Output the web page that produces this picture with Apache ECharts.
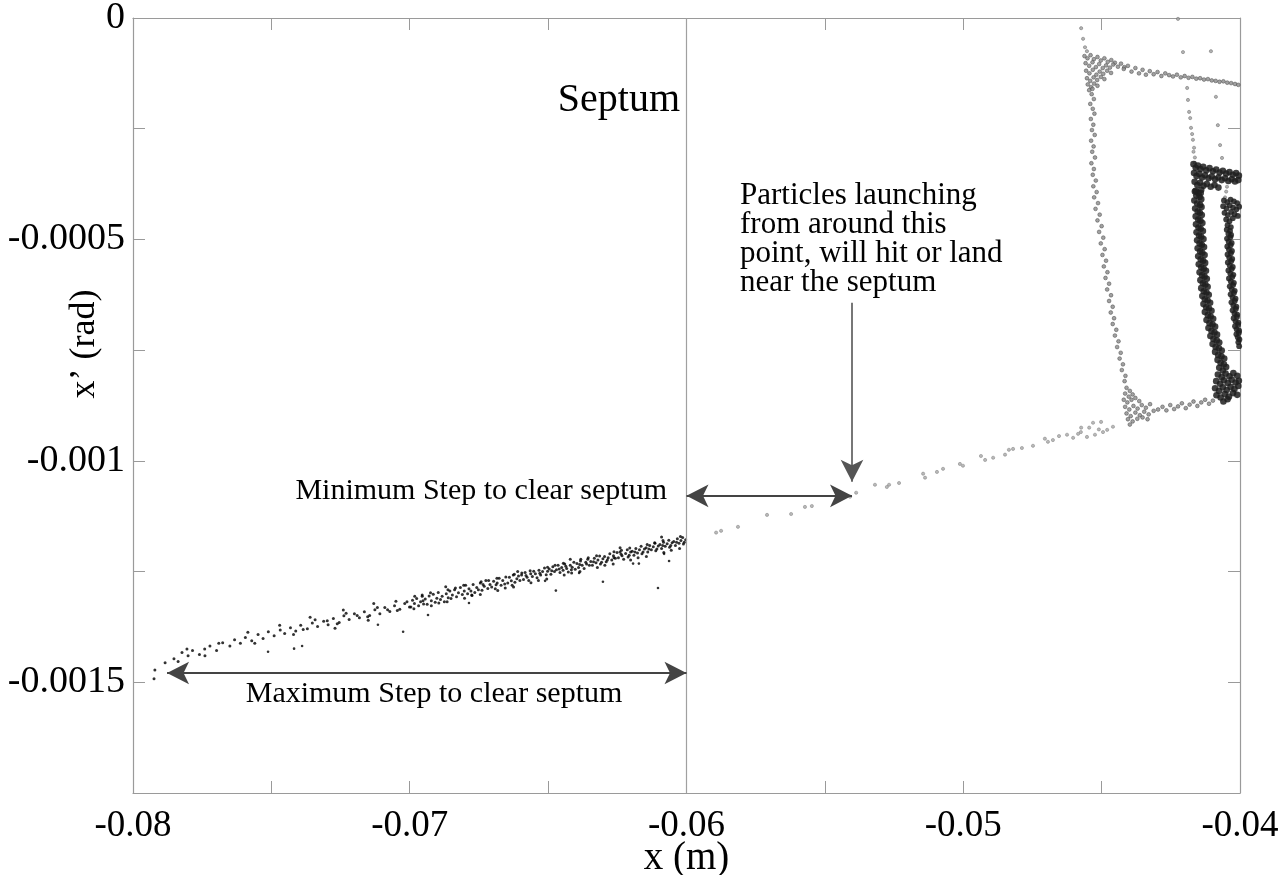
<!DOCTYPE html>
<html>
<head>
<meta charset="utf-8">
<title>Phase space near the septum</title>
<script src="https://cdn.jsdelivr.net/npm/echarts@6/dist/echarts.min.js"></script>
<style>
  html, body { margin: 0; padding: 0; background: #fff; overflow: hidden; }
  #chart { width: 1283px; height: 875px; }
</style>
</head>
<body>
<div id="chart"></div>
<script>
// Tick labels
const xTickLabels = ['-0.08', '-0.07', '-0.06', '-0.05', '-0.04'];
const yTickLabels = ['0', '-0.0005', '-0.001', '-0.0015'];

// Septum position (m)
const septumX = -0.06;

// Extracted beam band, left of the septum: [x (m), x' (rad)]
const bandPoints = [
  [-0.07924,-0.001492],[-0.07921,-0.001472],[-0.07884,-0.001456],[-0.07852,-0.001447],[-0.07837,-0.001453],[-0.07823,-0.001433],
  [-0.07801,-0.001440],[-0.07785,-0.001428],[-0.07760,-0.001437],[-0.07741,-0.001425],[-0.07722,-0.001418],[-0.07698,-0.001428],
  [-0.07676,-0.001411],[-0.07650,-0.001418],[-0.07633,-0.001404],[-0.07612,-0.001412],[-0.07594,-0.001399],[-0.07571,-0.001406],
  [-0.07548,-0.001392],[-0.07530,-0.001401],[-0.07511,-0.001386],[-0.07490,-0.001395],[-0.07468,-0.001382],[-0.07452,-0.001390],
  [-0.07431,-0.001377],[-0.07412,-0.001384],[-0.07394,-0.001371],[-0.07370,-0.001379],[-0.07352,-0.001366],[-0.07333,-0.001374],
  [-0.07311,-0.001362],[-0.07295,-0.001370],[-0.07276,-0.001356],[-0.07255,-0.001365],[-0.07238,-0.001350],[-0.07219,-0.001358],
  [-0.07200,-0.001345],[-0.07182,-0.001354],[-0.07164,-0.001341],[-0.07145,-0.001349],[-0.07126,-0.001336],[-0.07108,-0.001345],
  [-0.07090,-0.001331],[-0.07072,-0.001340],[-0.07055,-0.001327],[-0.07036,-0.001335],[-0.07018,-0.001322],[-0.07001,-0.001330],
  [-0.07385,-0.001381],[-0.07342,-0.001359],[-0.07298,-0.001361],[-0.07262,-0.001368],[-0.07230,-0.001344],[-0.07190,-0.001349],
  [-0.07152,-0.001352],[-0.07117,-0.001331],[-0.07080,-0.001336],[-0.07045,-0.001338],[-0.07010,-0.001318],
  [-0.07805,-0.001425],[-0.07690,-0.001412],[-0.07585,-0.001387],[-0.07470,-0.001371],[-0.07360,-0.001353],[-0.07240,-0.001337],
  [-0.07130,-0.001322],[-0.07050,-0.001317],[-0.07740,-0.001440],[-0.07560,-0.001412],[-0.07420,-0.001392],[-0.07270,-0.001378],
  [-0.07150,-0.001360],
  [-0.06996,-0.001330],[-0.06990,-0.001315],[-0.06983,-0.001322],[-0.06975,-0.001311],[-0.06968,-0.001327],[-0.06961,-0.001318],
  [-0.06955,-0.001306],[-0.06950,-0.001323],[-0.06952,-0.001316],
  [-0.06944,-0.001312],[-0.06937,-0.001324],[-0.06930,-0.001305],[-0.06922,-0.001316],[-0.06915,-0.001301],[-0.06908,-0.001319],[-0.06902,-0.001310],
  [-0.06897,-0.001297],[-0.06889,-0.001313],[-0.06883,-0.001306],[-0.06875,-0.001318],[-0.06868,-0.001300],[-0.06861,-0.001309],[-0.06855,-0.001294],[-0.06851,-0.001311],
  [-0.06846,-0.001303],[-0.06838,-0.001291],[-0.06831,-0.001307],[-0.06824,-0.001298],[-0.06817,-0.001286],[-0.06810,-0.001302],[-0.06803,-0.001294],
  [-0.06798,-0.001281],[-0.06791,-0.001300],[-0.06786,-0.001289],[-0.06779,-0.001294],[-0.06771,-0.001279],[-0.06765,-0.001297],[-0.06758,-0.001286],[-0.06752,-0.001291],[-0.06776,-0.001303],
  [-0.06745,-0.001276],[-0.06739,-0.001292],[-0.06731,-0.001283],[-0.06725,-0.001270],[-0.06718,-0.001288],[-0.06710,-0.001279],[-0.06704,-0.001285],[-0.06735,-0.001279],
  [-0.06697,-0.001272],[-0.06691,-0.001289],[-0.06684,-0.001276],[-0.06677,-0.001265],[-0.06670,-0.001281],[-0.06664,-0.001270],[-0.06657,-0.001278],[-0.06653,-0.001262],[-0.06688,-0.001280],
  [-0.06646,-0.001276],[-0.06640,-0.001263],[-0.06633,-0.001271],[-0.06626,-0.001258],[-0.06620,-0.001274],[-0.06613,-0.001266],[-0.06607,-0.001260],[-0.06602,-0.001270],[-0.06630,-0.001281],
  [-0.06596,-0.001258],[-0.06589,-0.001268],[-0.06583,-0.001252],[-0.06576,-0.001263],[-0.06570,-0.001270],[-0.06563,-0.001255],[-0.06557,-0.001261],[-0.06552,-0.001249],[-0.06580,-0.001259],
  [-0.06546,-0.001255],[-0.06540,-0.001264],[-0.06533,-0.001247],[-0.06527,-0.001258],[-0.06520,-0.001250],[-0.06513,-0.001242],[-0.06507,-0.001257],[-0.06502,-0.001249],[-0.06530,-0.001254],
  [-0.06496,-0.001244],[-0.06490,-0.001256],[-0.06483,-0.001239],[-0.06477,-0.001250],[-0.06470,-0.001246],[-0.06464,-0.001236],[-0.06457,-0.001252],[-0.06451,-0.001241],[-0.06487,-0.001248],[-0.06460,-0.001244],
  [-0.06446,-0.001247],[-0.06440,-0.001233],[-0.06433,-0.001243],[-0.06427,-0.001251],[-0.06420,-0.001236],[-0.06413,-0.001240],[-0.06407,-0.001229],[-0.06402,-0.001245],[-0.06436,-0.001238],[-0.06416,-0.001246],
  [-0.06396,-0.001232],[-0.06390,-0.001241],[-0.06383,-0.001226],[-0.06377,-0.001236],[-0.06370,-0.001243],[-0.06364,-0.001229],[-0.06357,-0.001222],[-0.06351,-0.001236],[-0.06386,-0.001234],[-0.06361,-0.001233],
  [-0.06346,-0.001227],[-0.06340,-0.001236],[-0.06333,-0.001220],[-0.06327,-0.001230],[-0.06320,-0.001224],[-0.06314,-0.001215],[-0.06307,-0.001229],[-0.06302,-0.001221],[-0.06336,-0.001228],[-0.06311,-0.001233],
  [-0.06296,-0.001216],[-0.06290,-0.001228],[-0.06283,-0.001219],[-0.06277,-0.001210],[-0.06270,-0.001224],[-0.06264,-0.001214],[-0.06257,-0.001220],[-0.06251,-0.001207],[-0.06286,-0.001224],[-0.06262,-0.001219],
  [-0.06246,-0.001219],[-0.06240,-0.001206],[-0.06233,-0.001214],[-0.06227,-0.001222],[-0.06220,-0.001209],[-0.06214,-0.001201],[-0.06207,-0.001213],[-0.06202,-0.001206],[-0.06236,-0.001211],[-0.06211,-0.001217],
  [-0.06196,-0.001204],[-0.06190,-0.001213],[-0.06183,-0.001198],[-0.06177,-0.001208],[-0.06170,-0.001201],[-0.06164,-0.001193],[-0.06157,-0.001206],[-0.06152,-0.001199],[-0.06186,-0.001206],[-0.06161,-0.001210],
  [-0.06146,-0.001196],[-0.06140,-0.001206],[-0.06133,-0.001191],[-0.06127,-0.001201],[-0.06120,-0.001194],[-0.06114,-0.001186],[-0.06107,-0.001199],[-0.06102,-0.001192],[-0.06136,-0.001199],[-0.06111,-0.001203],
  [-0.06096,-0.001189],[-0.06090,-0.001198],[-0.06083,-0.001184],[-0.06077,-0.001193],[-0.06070,-0.001187],[-0.06064,-0.001179],[-0.06057,-0.001191],[-0.06052,-0.001185],[-0.06086,-0.001191],[-0.06061,-0.001195],
  [-0.06046,-0.001182],[-0.06040,-0.001191],[-0.06033,-0.001176],[-0.06027,-0.001186],[-0.06020,-0.001180],[-0.06014,-0.001173],[-0.06008,-0.001184],[-0.06003,-0.001178],[-0.06036,-0.001184],[-0.06011,-0.001188],
  [-0.06870,-0.001284],[-0.06420,-0.001222],[-0.06240,-0.001196],[-0.06610,-0.001250],[-0.06090,-0.001172],
  // wider fringe of the band
  [-0.06985,-0.001334],[-0.06982,-0.001306],[-0.06925,-0.001298],[-0.06922,-0.001327],[-0.06865,-0.001318],[-0.06862,-0.001291],
  [-0.06805,-0.001281],[-0.06802,-0.001310],[-0.06745,-0.001302],[-0.06742,-0.001273],[-0.06685,-0.001265],[-0.06682,-0.001293],
  [-0.06625,-0.001285],[-0.06622,-0.001256],[-0.06565,-0.001248],[-0.06562,-0.001275],[-0.06505,-0.001267],[-0.06502,-0.001240],
  [-0.06445,-0.001231],[-0.06442,-0.001258],[-0.06385,-0.001250],[-0.06382,-0.001222],[-0.06325,-0.001214],[-0.06322,-0.001241],
  [-0.06265,-0.001233],[-0.06262,-0.001205],[-0.06205,-0.001197],[-0.06202,-0.001224],[-0.06145,-0.001216],[-0.06142,-0.001189],
  [-0.06085,-0.001180],[-0.06082,-0.001207],[-0.06025,-0.001198],[-0.06022,-0.001171],
  [-0.06955,-0.001303],[-0.06895,-0.001321],[-0.06835,-0.001287],[-0.06775,-0.001304],[-0.06715,-0.001270],[-0.06655,-0.001287],
  [-0.06595,-0.001253],[-0.06535,-0.001270],[-0.06475,-0.001236],[-0.06415,-0.001253],[-0.06355,-0.001219],[-0.06295,-0.001236],
  [-0.06235,-0.001202],[-0.06175,-0.001219],[-0.06115,-0.001185],[-0.06055,-0.001202]
];

// Stragglers scattered below the band
const bandOutliers = [
  [-0.07512,-0.001431],[-0.07418,-0.001424],[-0.07389,-0.001418],[-0.07115,-0.001370],[-0.07024,-0.001386],
  [-0.06934,-0.001348],[-0.06786,-0.001321],[-0.06511,-0.001271],[-0.06472,-0.001293],[-0.06388,-0.001253],
  [-0.06302,-0.001273],[-0.06193,-0.001232],[-0.06172,-0.001232],[-0.06103,-0.001287],[-0.06081,-0.001210],[-0.06063,-0.001226]
];

// Sparse trail between the septum and the separatrix
const trailPoints = [
  [-0.04459,-0.000923],[-0.04480,-0.000930],[-0.04495,-0.000935],[-0.04510,-0.000929],[-0.04524,-0.000941],[-0.04553,-0.000946],
  [-0.04575,-0.000935],[-0.04603,-0.000948],[-0.04625,-0.000941],[-0.04654,-0.000944],[-0.04676,-0.000953],[-0.04694,-0.000957],
  [-0.04705,-0.000950],[-0.04748,-0.000966],[-0.04788,-0.000971],[-0.04820,-0.000973],[-0.04835,-0.000975],[-0.04849,-0.000986],
  [-0.04892,-0.000993],[-0.04921,-0.000998],[-0.04936,-0.000989],[-0.05001,-0.001011],[-0.05012,-0.001007],[-0.05073,-0.001018],
  [-0.05095,-0.001025],[-0.05138,-0.001038],[-0.05145,-0.001029],[-0.05232,-0.001050],[-0.05268,-0.001054],[-0.05276,-0.001059],
  [-0.05319,-0.001054],[-0.05387,-0.001072],[-0.05409,-0.001081],[-0.05547,-0.001102],[-0.05572,-0.001104],[-0.05622,-0.001120],
  [-0.05709,-0.001122],[-0.05814,-0.001149],[-0.05893,-0.001162],[-0.05875,-0.001158],
  [-0.04585,-0.000939],[-0.04574,-0.000925],[-0.04545,-0.000925],[-0.04531,-0.000914],[-0.04502,-0.000912]
];

// Outer island: corners, edges
const outerLoop = [
  [-0.04562,-0.000086],[-0.04551,-0.000091],[-0.04540,-0.000084],[-0.04528,-0.000093],[-0.04515,-0.000088],[-0.04503,-0.000096],
  [-0.04490,-0.000091],[-0.04478,-0.000099],[-0.04465,-0.000095],[-0.04452,-0.000101],
  [-0.04558,-0.000102],[-0.04545,-0.000108],[-0.04533,-0.000100],[-0.04521,-0.000111],[-0.04509,-0.000104],[-0.04496,-0.000113],
  [-0.04484,-0.000107],[-0.04470,-0.000112],[-0.04458,-0.000105],[-0.04441,-0.000110],[-0.04430,-0.000103],[-0.04418,-0.000111],
  [-0.04556,-0.000119],[-0.04544,-0.000125],[-0.04532,-0.000117],[-0.04519,-0.000128],[-0.04507,-0.000121],[-0.04494,-0.000126],
  [-0.04480,-0.000119],[-0.04466,-0.000124],
  [-0.04553,-0.000136],[-0.04541,-0.000142],[-0.04529,-0.000134],[-0.04516,-0.000140],[-0.04503,-0.000133],[-0.04490,-0.000138],
  [-0.04550,-0.000150],[-0.04538,-0.000156],[-0.04527,-0.000148],[-0.04515,-0.000153],[-0.04545,-0.000163],[-0.04533,-0.000160],
  // top edge
  [-0.04420,-0.000115],[-0.04405,-0.000108],[-0.04392,-0.000121],[-0.04378,-0.000113],[-0.04365,-0.000125],[-0.04352,-0.000117],
  [-0.04340,-0.000128],[-0.04326,-0.000120],[-0.04312,-0.000127],[-0.04298,-0.000122],[-0.04284,-0.000131],[-0.04270,-0.000125],
  [-0.04256,-0.000129],[-0.04242,-0.000132],[-0.04228,-0.000128],[-0.04214,-0.000134],[-0.04200,-0.000131],[-0.04186,-0.000135],
  [-0.04172,-0.000133],[-0.04158,-0.000137],[-0.04144,-0.000136],[-0.04130,-0.000139],[-0.04116,-0.000138],[-0.04102,-0.000141],
  [-0.04088,-0.000142],[-0.04074,-0.000144],[-0.04060,-0.000143],[-0.04046,-0.000146],[-0.04032,-0.000147],[-0.04018,-0.000149],[-0.04006,-0.000151],
  // left edge
  [-0.04536,-0.000172],[-0.04528,-0.000183],[-0.04541,-0.000194],[-0.04532,-0.000205],[-0.04526,-0.000216],[-0.04539,-0.000228],
  [-0.04530,-0.000241],[-0.04535,-0.000253],[-0.04525,-0.000264],[-0.04538,-0.000277],[-0.04529,-0.000290],[-0.04534,-0.000302],
  [-0.04524,-0.000315],[-0.04537,-0.000328],[-0.04528,-0.000341],[-0.04532,-0.000354],[-0.04521,-0.000367],[-0.04530,-0.000380],
  [-0.04518,-0.000393],[-0.04527,-0.000405],[-0.04513,-0.000418],[-0.04522,-0.000431],[-0.04507,-0.000444],[-0.04515,-0.000457],
  [-0.04500,-0.000470],[-0.04509,-0.000483],[-0.04494,-0.000496],[-0.04503,-0.000509],[-0.04489,-0.000522],[-0.04497,-0.000535],
  [-0.04484,-0.000548],[-0.04492,-0.000561],[-0.04479,-0.000574],[-0.04486,-0.000587],[-0.04473,-0.000600],[-0.04480,-0.000613],
  [-0.04466,-0.000626],[-0.04473,-0.000639],[-0.04460,-0.000652],[-0.04467,-0.000665],[-0.04455,-0.000678],[-0.04460,-0.000691],
  [-0.04447,-0.000704],[-0.04452,-0.000717],[-0.04439,-0.000730],[-0.04444,-0.000743],[-0.04431,-0.000756],[-0.04435,-0.000769],
  [-0.04423,-0.000782],[-0.04427,-0.000795],[-0.04414,-0.000808],[-0.04417,-0.000820],
  // bottom-left corner
  [-0.04410,-0.000835],[-0.04398,-0.000842],[-0.04415,-0.000848],[-0.04402,-0.000855],[-0.04388,-0.000850],[-0.04420,-0.000862],
  [-0.04407,-0.000868],[-0.04392,-0.000862],[-0.04378,-0.000858],[-0.04364,-0.000865],[-0.04415,-0.000878],[-0.04400,-0.000884],
  [-0.04385,-0.000876],[-0.04370,-0.000882],[-0.04355,-0.000874],[-0.04340,-0.000880],[-0.04325,-0.000872],[-0.04410,-0.000893],
  [-0.04395,-0.000899],[-0.04378,-0.000891],[-0.04362,-0.000897],[-0.04346,-0.000889],[-0.04330,-0.000895],[-0.04312,-0.000887],
  [-0.04296,-0.000884],[-0.04405,-0.000906],[-0.04388,-0.000911],[-0.04371,-0.000905],[-0.04352,-0.000902],[-0.04334,-0.000906],[-0.04398,-0.000918],
  // bottom edge
  [-0.04280,-0.000878],[-0.04266,-0.000886],[-0.04252,-0.000874],[-0.04238,-0.000883],[-0.04224,-0.000877],[-0.04210,-0.000870],
  [-0.04196,-0.000881],[-0.04182,-0.000873],[-0.04168,-0.000866],[-0.04154,-0.000876],[-0.04140,-0.000868],[-0.04126,-0.000862],
  [-0.04112,-0.000871],[-0.04098,-0.000864]
];

// Isolated particles near the top
const strayPoints = [
  [-0.04574,-0.000023],[-0.04567,-0.000047],[-0.04560,-0.000066],[-0.04553,-0.000075],[-0.04224,-0.000002],[-0.04206,-0.000077],
  [-0.04105,-0.000075],[-0.04087,-0.000178],[-0.04080,-0.000242],[-0.04072,-0.000287],[-0.04065,-0.000316],
  [-0.04191,-0.000158],[-0.04188,-0.000185],[-0.04184,-0.000212],[-0.04180,-0.000226],[-0.04177,-0.000248],[-0.04173,-0.000262],
  [-0.04170,-0.000275],[-0.04166,-0.000293],[-0.04168,-0.000302],[-0.04163,-0.000315],[-0.04163,-0.000327],
  [-0.04047,-0.000381],[-0.04050,-0.000392],[-0.04054,-0.000405]
];

// Middle island
const middleLoop = [
  [-0.04168,-0.000330],[-0.04160,-0.000338],[-0.04152,-0.000333],[-0.04143,-0.000341],[-0.04133,-0.000336],[-0.04122,-0.000344],
  [-0.04110,-0.000339],[-0.04098,-0.000346],[-0.04086,-0.000342],[-0.04074,-0.000349],[-0.04062,-0.000345],[-0.04050,-0.000351],
  [-0.04038,-0.000348],[-0.04026,-0.000354],[-0.04014,-0.000350],[-0.04004,-0.000356],
  [-0.04166,-0.000350],[-0.04157,-0.000357],[-0.04147,-0.000352],[-0.04137,-0.000360],[-0.04126,-0.000355],[-0.04114,-0.000362],
  [-0.04102,-0.000358],[-0.04090,-0.000364],[-0.04078,-0.000360],[-0.04066,-0.000366],[-0.04054,-0.000362],[-0.04042,-0.000368],
  [-0.04030,-0.000364],[-0.04018,-0.000369],[-0.04006,-0.000366],
  [-0.04164,-0.000370],[-0.04154,-0.000377],[-0.04144,-0.000372],[-0.04132,-0.000379],[-0.04120,-0.000375],[-0.04106,-0.000381],
  [-0.04092,-0.000377],[-0.04078,-0.000383],[-0.04160,-0.000390],[-0.04150,-0.000395],[-0.04140,-0.000388],
  [-0.04163,-0.000392],[-0.04142,-0.000395],[-0.04158,-0.000401],[-0.04146,-0.000404],[-0.04165,-0.000412],[-0.04140,-0.000409],
  [-0.04155,-0.000419],[-0.04144,-0.000422],[-0.04162,-0.000430],[-0.04139,-0.000427],[-0.04153,-0.000437],[-0.04145,-0.000440],
  [-0.04160,-0.000448],[-0.04138,-0.000445],[-0.04151,-0.000455],[-0.04143,-0.000458],[-0.04159,-0.000466],[-0.04136,-0.000463],
  [-0.04150,-0.000473],[-0.04142,-0.000476],[-0.04157,-0.000484],[-0.04134,-0.000481],[-0.04148,-0.000491],[-0.04140,-0.000494],
  [-0.04155,-0.000502],[-0.04132,-0.000499],[-0.04146,-0.000509],[-0.04138,-0.000512],[-0.04153,-0.000520],[-0.04130,-0.000517],
  [-0.04144,-0.000527],[-0.04136,-0.000530],[-0.04151,-0.000538],[-0.04128,-0.000535],[-0.04142,-0.000545],[-0.04133,-0.000548],
  [-0.04149,-0.000556],[-0.04126,-0.000553],[-0.04140,-0.000563],[-0.04131,-0.000566],[-0.04146,-0.000574],[-0.04123,-0.000571],
  [-0.04137,-0.000581],[-0.04128,-0.000584],[-0.04143,-0.000592],[-0.04120,-0.000589],[-0.04134,-0.000599],[-0.04125,-0.000602],
  [-0.04140,-0.000610],[-0.04117,-0.000607],[-0.04131,-0.000617],[-0.04121,-0.000620],[-0.04136,-0.000628],[-0.04113,-0.000625],
  [-0.04127,-0.000635],[-0.04117,-0.000638],[-0.04132,-0.000646],[-0.04108,-0.000643],[-0.04122,-0.000653],[-0.04112,-0.000656],
  [-0.04127,-0.000664],[-0.04103,-0.000661],[-0.04116,-0.000671],[-0.04106,-0.000674],[-0.04121,-0.000682],[-0.04097,-0.000679],
  [-0.04110,-0.000689],[-0.04099,-0.000692],[-0.04114,-0.000700],[-0.04090,-0.000697],[-0.04103,-0.000707],[-0.04092,-0.000710],
  [-0.04107,-0.000718],[-0.04083,-0.000715],[-0.04096,-0.000725],[-0.04084,-0.000728],[-0.04099,-0.000736],[-0.04075,-0.000733],
  [-0.04088,-0.000743],[-0.04076,-0.000746],[-0.04090,-0.000754],[-0.04066,-0.000751],[-0.04079,-0.000761],[-0.04067,-0.000764],
  [-0.04081,-0.000772],[-0.04057,-0.000769],[-0.04070,-0.000779],[-0.04058,-0.000782],
  [-0.04075,-0.000790],[-0.04062,-0.000796],[-0.04050,-0.000788],[-0.04080,-0.000805],[-0.04066,-0.000811],[-0.04052,-0.000803],
  [-0.04038,-0.000809],[-0.04024,-0.000802],[-0.04010,-0.000808],[-0.04086,-0.000820],[-0.04072,-0.000826],[-0.04058,-0.000818],
  [-0.04044,-0.000824],[-0.04030,-0.000817],[-0.04016,-0.000823],[-0.04004,-0.000819],[-0.04090,-0.000836],[-0.04076,-0.000842],
  [-0.04062,-0.000834],[-0.04048,-0.000840],[-0.04034,-0.000833],[-0.04020,-0.000838],[-0.04006,-0.000831],[-0.04085,-0.000852],
  [-0.04070,-0.000857],[-0.04055,-0.000849],[-0.04040,-0.000855],[-0.04025,-0.000847],[-0.04010,-0.000851],[-0.04060,-0.000866],[-0.04045,-0.000861]
];

// Inner island
const innerLoop = [
  [-0.04058,-0.000412],[-0.04046,-0.000416],[-0.04034,-0.000410],[-0.04022,-0.000414],[-0.04010,-0.000418],[-0.04061,-0.000425],
  [-0.04049,-0.000430],[-0.04037,-0.000423],[-0.04025,-0.000428],[-0.04013,-0.000432],[-0.04003,-0.000426],[-0.04056,-0.000440],
  [-0.04044,-0.000445],[-0.04032,-0.000438],[-0.04020,-0.000443],[-0.04008,-0.000447],[-0.04050,-0.000455],[-0.04038,-0.000459],
  [-0.04026,-0.000452],[-0.04045,-0.000468],[-0.04033,-0.000472],
  [-0.04048,-0.000478],[-0.04036,-0.000481],[-0.04042,-0.000487],[-0.04032,-0.000490],[-0.04047,-0.000498],[-0.04035,-0.000495],
  [-0.04041,-0.000505],[-0.04030,-0.000508],[-0.04046,-0.000516],[-0.04034,-0.000513],[-0.04040,-0.000523],[-0.04029,-0.000526],
  [-0.04045,-0.000534],[-0.04033,-0.000531],[-0.04039,-0.000541],[-0.04028,-0.000544],[-0.04044,-0.000552],[-0.04032,-0.000549],
  [-0.04037,-0.000559],[-0.04026,-0.000562],[-0.04042,-0.000570],[-0.04030,-0.000567],[-0.04035,-0.000577],[-0.04024,-0.000580],
  [-0.04040,-0.000588],[-0.04028,-0.000585],[-0.04033,-0.000595],[-0.04022,-0.000598],[-0.04037,-0.000606],[-0.04025,-0.000603],
  [-0.04030,-0.000613],[-0.04019,-0.000616],[-0.04034,-0.000624],[-0.04022,-0.000621],[-0.04027,-0.000631],[-0.04016,-0.000634],
  [-0.04031,-0.000642],[-0.04019,-0.000639],[-0.04024,-0.000649],[-0.04013,-0.000652],[-0.04027,-0.000660],[-0.04015,-0.000657],
  [-0.04020,-0.000667],[-0.04010,-0.000670],[-0.04023,-0.000678],[-0.04011,-0.000675],[-0.04016,-0.000685],[-0.04006,-0.000688],
  [-0.04018,-0.000696],[-0.04007,-0.000693],[-0.04012,-0.000703],[-0.04003,-0.000706],[-0.04013,-0.000714],[-0.04004,-0.000711],
  [-0.04008,-0.000721],[-0.04002,-0.000726],[-0.04006,-0.000732],[-0.04003,-0.000741]
];

// Annotation arrows, in axis units
const minStepArrow = [[-0.06, -0.001079], [-0.05402, -0.001079]];
const maxStepArrow = [[-0.07877, -0.001479], [-0.06, -0.001479]];
const pointerArrow = [[-0.05402, -0.000643], [-0.05402, -0.001047]];

const FONT = '"Liberation Serif", "Times New Roman", serif';
const AXIS_GRAY = '#9a9a9a';

function labelFor(list, v) {
  for (const s of list) {
    if (Math.abs(parseFloat(s) - v) < 1e-9) return s;
  }
  return '';
}

const chart = echarts.init(document.getElementById('chart'), null, { renderer: 'canvas' });

const tickStyle = { show: true, inside: true, length: 12, lineStyle: { color: AXIS_GRAY, width: 1 } };
const lineStyle = { show: true, onZero: false, lineStyle: { color: AXIS_GRAY, width: 1.2 } };

const arrowEnd = { symbol: 'arrow', symbolSize: [17, 22] };

chart.setOption({
  animation: false,
  backgroundColor: '#ffffff',
  grid: { left: 133, right: 43, top: 18, bottom: 82, containLabel: false, outerBoundsMode: 'none' },
  xAxis: [
    {
      type: 'value', position: 'bottom', min: -0.08, max: -0.04, interval: 0.005,
      axisLine: lineStyle, axisTick: tickStyle, splitLine: { show: false },
      axisLabel: {
        margin: 15, color: '#000', fontFamily: FONT, fontSize: 37,
        formatter: v => labelFor(xTickLabels, v)
      },
      name: 'x (m)', nameLocation: 'middle', nameGap: 46, nameMoveOverlap: false,
      nameTextStyle: { color: '#000', fontFamily: FONT, fontSize: 39 }
    },
    {
      type: 'value', position: 'top', min: -0.08, max: -0.04, interval: 0.005,
      axisLine: lineStyle, axisTick: tickStyle, splitLine: { show: false },
      axisLabel: { show: false }
    }
  ],
  yAxis: [
    {
      type: 'value', position: 'left', min: -0.00175, max: 0, interval: 0.00025,
      axisLine: lineStyle, axisTick: tickStyle, splitLine: { show: false },
      axisLabel: {
        margin: 8, color: '#000', fontFamily: FONT, fontSize: 38,
        formatter: v => labelFor(yTickLabels, v)
      }
    },
    {
      type: 'value', position: 'right', min: -0.00175, max: 0, interval: 0.00025,
      axisLine: lineStyle, axisTick: tickStyle, splitLine: { show: false },
      axisLabel: { show: false }
    }
  ],
  graphic: [
    {
      type: 'text', x: 85, y: 344, rotation: Math.PI / 2,
      style: { text: 'x\u2019 (rad)', fontFamily: FONT, fontSize: 36, fill: '#000', align: 'center', verticalAlign: 'middle' }
    },
    {
      type: 'text', x: 680, y: 100,
      style: { text: 'Septum', fontFamily: FONT, fontSize: 40, fill: '#000', align: 'right', verticalAlign: 'middle' }
    },
    {
      type: 'text', x: 740, y: 181,
      style: {
        text: 'Particles launching\nfrom around this\npoint, will hit or land\nnear the septum',
        fontFamily: FONT, fontSize: 31, lineHeight: 29, fill: '#000', align: 'left', verticalAlign: 'top'
      }
    },
    {
      type: 'text', x: 667, y: 491,
      style: { text: 'Minimum Step to clear septum', fontFamily: FONT, fontSize: 30, fill: '#000', align: 'right', verticalAlign: 'middle' }
    },
    {
      type: 'text', x: 434, y: 694,
      style: { text: 'Maximum Step to clear septum', fontFamily: FONT, fontSize: 30, fill: '#000', align: 'center', verticalAlign: 'middle' }
    }
  ],
  series: [
    {
      name: 'trail', type: 'scatter', xAxisIndex: 0, yAxisIndex: 0,
      data: trailPoints, symbolSize: 3.2,
      itemStyle: { color: '#a8a8a8', borderColor: '#7a7a7a', borderWidth: 0.6 },
      silent: true,
      markLine: {
        silent: true, animation: false,
        symbol: ['none', 'none'],
        label: { show: false },
        data: [
          [
            { xAxis: septumX, yAxis: 0, symbol: 'none', lineStyle: { color: '#a0a0a0', width: 1.2, type: 'solid' } },
            { xAxis: septumX, yAxis: -0.00175, symbol: 'none' }
          ],
          [
            Object.assign({ coord: minStepArrow[0], lineStyle: { color: '#444', width: 2, type: 'solid' } }, arrowEnd),
            Object.assign({ coord: minStepArrow[1] }, arrowEnd)
          ],
          [
            Object.assign({ coord: maxStepArrow[0], lineStyle: { color: '#444', width: 2.2, type: 'solid' } }, arrowEnd),
            Object.assign({ coord: maxStepArrow[1] }, arrowEnd)
          ],
          [
            { coord: pointerArrow[0], symbol: 'none', lineStyle: { color: '#555', width: 1.6, type: 'solid' } },
            Object.assign({ coord: pointerArrow[1] }, arrowEnd)
          ]
        ]
      }
    },
    {
      name: 'outer island', type: 'scatter', data: outerLoop, symbolSize: 3.8, silent: true,
      itemStyle: { color: '#8a8a8a', borderColor: '#444', borderWidth: 0.6 }
    },
    {
      name: 'stray', type: 'scatter', data: strayPoints, symbolSize: 3.2, silent: true,
      itemStyle: { color: '#a0a0a0', borderColor: '#666', borderWidth: 0.6 }
    },
    {
      name: 'middle island', type: 'scatter', data: middleLoop, symbolSize: 6.6, silent: true,
      itemStyle: { color: '#1e1e1e', borderWidth: 0, opacity: 0.85 }
    },
    {
      name: 'inner island', type: 'scatter', data: innerLoop, symbolSize: 5.8, silent: true,
      itemStyle: { color: '#1e1e1e', borderWidth: 0, opacity: 0.85 }
    },
    {
      name: 'extracted band', type: 'scatter', data: bandPoints, symbolSize: 3, silent: true,
      itemStyle: { color: '#000' }
    },
    {
      name: 'band stragglers', type: 'scatter', data: bandOutliers, symbolSize: 2.6, silent: true,
      itemStyle: { color: '#000' }
    }
  ]
});
</script>
</body>
</html>
